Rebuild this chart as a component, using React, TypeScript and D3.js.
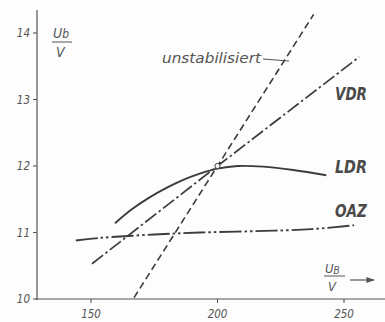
import React from "react";
import * as d3 from "d3";

const xTicks = [150, 200, 250];
const yTicks = [10, 11, 12, 13, 14];

const unstabX = [167, 200, 238];
const unstabY = [10.02, 12.0, 14.28];

const vdrX = [150.4, 200, 256];
const vdrY = [10.53, 12.0, 13.64];

const ldrX = [159.5, 166, 173, 180, 186, 193, 200, 208, 218, 230, 243];
const ldrY = [11.14, 11.345, 11.525, 11.675, 11.785, 11.885, 11.96, 12.0, 11.99, 11.94, 11.86];

const oazX = [144, 154, 175, 193, 215, 237, 254];
const oazY = [10.88, 10.92, 10.97, 11.0, 11.02, 11.05, 11.11];

const seriesLabels = ["VDR", "LDR", "OAZ"];
const seriesLabelY = [12.99, 11.9, 11.23];

const zip = (xs: number[], ys: number[]) => xs.map((v, i) => [v, ys[i]] as [number, number]);

export default function App() {
  const x = d3.scaleLinear().domain([150, 250]).range([91, 344]);
  const y = d3.scaleLinear().domain([10, 14]).range([299, 33]);
  const lineStraight = d3.line<[number, number]>().x((d) => x(d[0])).y((d) => y(d[1]));
  const lineCurve = d3
    .line<[number, number]>()
    .x((d) => x(d[0]))
    .y((d) => y(d[1]))
    .curve(d3.curveCatmullRom);

  const ink = "#3c3c3c";
  const textCol = "#555";
  const font = "'DejaVu Sans Condensed', 'Liberation Sans Narrow', 'DejaVu Sans', sans-serif";
  const x0 = 37;
  const yBase = y(10);

  return (
    <div style={{ position: "absolute", left: 0, top: 0 }}>
      <svg width={385} height={322} style={{ display: "block", background: "#fdfdfd" }}>
        <defs>
          <marker id="arr" viewBox="0 0 10 10" refX="9" refY="5" markerWidth="7" markerHeight="7" orient="auto">
            <path d="M0,1.5 L10,5 L0,8.5 z" fill={textCol} />
          </marker>
        </defs>
        {/* axes */}
        <line x1={x0} y1={10} x2={x0} y2={yBase + 1} stroke="#555" strokeWidth={1.2} />
        <line x1={x0 - 1} y1={yBase} x2={385} y2={yBase} stroke="#555" strokeWidth={1.2} />
        {yTicks.map((t) => (
          <g key={"y" + t}>
            <line x1={x0 - 4} x2={x0} y1={y(t)} y2={y(t)} stroke="#555" strokeWidth={1.1} />
            <text
              x={x0 - 7}
              y={y(t) + 4}
              textAnchor="end"
              fontFamily={font}
              fontStyle="italic"
              fontSize={11.5}
              fill={textCol}
            >
              {t}
            </text>
          </g>
        ))}
        {xTicks.map((t) => (
          <g key={"x" + t}>
            <line x1={x(t)} x2={x(t)} y1={yBase} y2={yBase + 4} stroke="#555" strokeWidth={1.1} />
            <text
              x={x(t)}
              y={yBase + 19}
              textAnchor="middle"
              fontFamily={font}
              fontStyle="italic"
              fontSize={11.5}
              fill={textCol}
            >
              {t}
            </text>
          </g>
        ))}

        {/* y axis label */}
        <g fontFamily={font} fontStyle="italic" fill={textCol}>
          <text x={53} y={38} fontSize={14}>
            U<tspan fontSize={12}>b</tspan>
          </text>
          <line x1={52} x2={72} y1={42} y2={42} stroke={textCol} strokeWidth={1} />
          <text x={56} y={57} fontSize={14}>
            V
          </text>
        </g>
        {/* x axis label */}
        <g fontFamily={font} fontStyle="italic" fill={textCol}>
          <text x={325} y={273} fontSize={13}>
            U<tspan fontSize={10} dy={1}>B</tspan>
          </text>
          <line x1={324} x2={345} y1={276} y2={276} stroke={textCol} strokeWidth={1} />
          <text x={328} y={291} fontSize={13}>
            V
          </text>
          <line x1={350} x2={374} y1={280} y2={280} stroke={textCol} strokeWidth={1.2} markerEnd="url(#arr)" />
        </g>

        {/* curves */}
        <path
          d={lineStraight(zip(unstabX, unstabY)) || ""}
          fill="none"
          stroke={ink}
          strokeWidth={1.6}
          strokeDasharray="7,4"
        />
        <path
          d={lineStraight(zip(vdrX, vdrY)) || ""}
          fill="none"
          stroke={ink}
          strokeWidth={1.7}
          strokeDasharray="14,3,2.5,3"
        />
        <path d={lineCurve(zip(ldrX, ldrY)) || ""} fill="none" stroke={ink} strokeWidth={1.9} />
        <path
          d={lineCurve(zip(oazX, oazY)) || ""}
          fill="none"
          stroke={ink}
          strokeWidth={1.9}
          strokeDasharray="22,3,2.5,3,2.5,3"
        />
        <circle cx={x(200)} cy={y(12)} r={2.6} fill="#fff" stroke={ink} strokeWidth={1} />

        {/* labels */}
        <text
          x={162}
          y={63}
          fontFamily={font}
          fontStyle="italic"
          fontSize={13.5}
          fill={textCol}
          textLength={99}
          lengthAdjust="spacingAndGlyphs"
        >
          unstabilisiert
        </text>
        <line x1={263} x2={289} y1={59} y2={61} stroke={textCol} strokeWidth={1} />
        {seriesLabels.map((s, i) => (
          <text
            key={s}
            x={335}
            y={y(seriesLabelY[i])}
            fontFamily={font}
            fontStyle="italic"
            fontWeight="bold"
            fontSize={17.5}
            fill="#4a4a4a"
            textLength={32}
            lengthAdjust="spacingAndGlyphs"
          >
            {s}
          </text>
        ))}
      </svg>
    </div>
  );
}
